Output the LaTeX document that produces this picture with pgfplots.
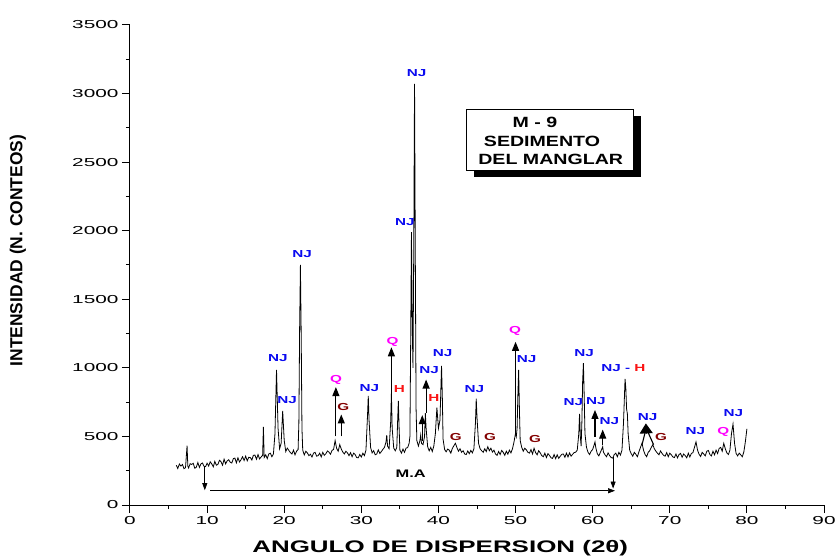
\documentclass[border=0pt]{standalone}
\usepackage{fontspec}
\setmainfont{Liberation Sans}
\newfontfamily\tickfont[FakeStretch=1.8]{Liberation Sans}
\newfontfamily\labfont[FakeStretch=1.55]{Liberation Sans}
\newfontfamily\boxfont[FakeStretch=1.32]{Liberation Sans}
\newfontfamily\annfont[FakeStretch=1.5]{Liberation Sans}
\usepackage{pgfplots}
\pgfplotsset{compat=1.18}
\usetikzlibrary{arrows.meta}
\definecolor{njblue}{RGB}{10,10,240}
\definecolor{qmag}{RGB}{255,0,255}
\definecolor{hred}{RGB}{250,20,20}
\definecolor{gred}{RGB}{130,0,0}
\tikzset{
  ann/.style={font=\annfont\bfseries\fontsize{10.2}{12}\selectfont, inner sep=0pt, anchor=center},
  boxt/.style={font=\boxfont\bfseries\fontsize{14.9}{16}\selectfont, inner sep=0pt, anchor=center},
  up/.style={line width=1.1bp, -{Triangle[length=9bp,width=7bp]}},
  ma/.style={line width=0.7bp, -{Triangle[length=7bp,width=5bp]}},
}
\begin{document}
\begin{tikzpicture}
\begin{axis}[
  scale only axis, width=694bp, height=480bp,
  xmin=0, xmax=90, ymin=0, ymax=3500,
  axis lines*=left,
  axis line style={line width=1bp},
  clip=false,
  xtick={0,10,...,90}, ytick={0,500,...,3500},
  minor x tick num=1, minor y tick num=1,
  tick align=outside,
  major tick length=8bp, minor tick length=4bp,
  tick style={line width=1bp, black},
  /pgf/number format/1000 sep={},
  /pgf/number format/assume math mode=true,
  tick label style={font=\tickfont\fontsize{11.6}{13}\selectfont},
  xlabel={ANGULO DE DISPERSION (2θ)},
  ylabel={INTENSIDAD (N. CONTEOS)},
  xlabel style={font=\labfont\bfseries\fontsize{16.8}{18}\selectfont, at={(axis description cs:0.447,-0.0896)}, anchor=center},
  ylabel style={font=\bfseries\fontsize{17.5}{19}\selectfont, at={(axis description cs:-0.1614,0.53)}, anchor=center, rotate=0},
]
\addplot[black, line width=0.8bp] table {
x y
6.0 290
6.2 266
6.4 299
6.6 284
6.8 296
7.0 265
7.2 272
7.4 432
7.5 284
7.6 270
7.8 301
8.0 296
8.2 304
8.4 268
8.6 275
8.8 310
9.0 274
9.2 300
9.4 306
9.6 282
9.8 280
10.0 305
10.2 284
10.4 315
10.6 300
10.8 278
11.0 318
11.2 290
11.4 296
11.6 326
11.8 316
12.0 290
12.2 334
12.4 300
12.6 322
12.8 330
13.0 312
13.2 306
13.4 338
13.6 342
13.8 308
14.0 344
14.2 314
14.4 330
14.6 352
14.8 324
15.0 356
15.2 322
15.4 348
15.6 346
15.8 328
16.0 362
16.2 364
16.4 334
16.6 368
16.8 336
17.0 350
17.2 362
17.3 570
17.4 346
17.6 366
17.8 338
18.0 372
18.2 378
18.4 352
18.6 372
18.8 520
19.0 985
19.2 560
19.4 410
19.6 450
19.8 686
20.0 470
20.2 390
20.4 415
20.6 398
20.8 382
21.0 372
21.2 400
21.4 366
21.6 392
21.8 405
21.9 600
22.0 1300
22.1 1750
22.2 1250
22.3 560
22.4 400
22.6 365
22.8 392
23.0 380
23.2 360
23.4 370
23.6 350
23.8 378
24.0 384
24.2 356
24.4 360
24.6 378
24.8 350
25.0 384
25.2 362
25.4 374
25.6 394
25.8 386
26.0 370
26.2 398
26.4 405
26.6 470
26.8 412
27.0 392
27.2 440
27.4 408
27.6 386
27.8 372
28.0 392
28.2 380
28.4 360
28.6 382
28.8 352
29.0 378
29.2 368
29.4 346
29.6 344
29.8 368
30.0 350
30.2 378
30.4 360
30.6 400
30.8 650
30.9 795
31.0 620
31.2 420
31.4 380
31.6 396
31.8 366
32.0 372
32.2 402
32.4 376
32.6 390
32.8 406
33.0 420
33.2 460
33.3 510
33.4 430
33.6 410
33.8 600
33.9 815
34.0 560
34.2 415
34.4 395
34.6 420
34.7 600
34.8 760
34.9 560
35.0 400
35.2 378
35.4 408
35.6 384
35.8 415
36.0 418
36.2 450
36.3 500
36.4 1200
36.5 1990
36.6 1300
36.7 1000
36.8 1900
36.9 3070
37.0 1800
37.1 700
37.2 470
37.4 430
37.6 470
37.7 510
37.8 450
38.0 440
38.2 500
38.3 670
38.4 560
38.6 425
38.8 395
39.0 420
39.2 390
39.4 430
39.6 520
39.8 710
40.0 560
40.2 620
40.4 1015
40.5 800
40.6 480
40.8 405
41.0 388
41.2 408
41.4 400
41.6 378
41.8 412
42.0 432
42.2 450
42.4 418
42.6 392
42.8 410
43.0 384
43.2 396
43.4 372
43.6 368
43.8 394
44.0 374
44.2 398
44.4 380
44.6 410
44.8 600
44.9 775
45.0 640
45.2 450
45.4 410
45.6 396
45.8 384
46.0 410
46.2 390
46.4 425
46.6 396
46.8 414
47.0 386
47.2 400
47.4 372
47.6 362
47.8 390
48.0 368
48.2 398
48.4 384
48.6 362
48.8 392
49.0 370
49.2 400
49.4 380
49.6 410
49.8 460
50.0 525
50.1 500
50.2 560
50.3 800
50.4 985
50.5 700
50.6 470
50.8 420
51.0 392
51.2 414
51.4 402
51.6 384
51.8 378
52.0 404
52.2 372
52.4 414
52.6 382
52.8 366
53.0 396
53.2 380
53.4 360
53.6 352
53.8 378
54.0 346
54.2 374
54.4 362
54.6 344
54.8 340
55.0 368
55.2 338
55.4 366
55.6 340
55.8 356
56.0 370
56.2 372
56.4 348
56.6 378
56.8 350
57.0 380
57.2 356
57.4 370
57.6 382
57.8 385
58.0 400
58.2 520
58.3 665
58.4 500
58.5 430
58.6 600
58.7 900
58.8 1035
58.9 800
59.0 520
59.2 420
59.4 384
59.6 368
59.8 392
60.0 405
60.2 440
60.3 460
60.4 420
60.6 374
60.8 358
61.0 384
61.2 410
61.3 425
61.4 385
61.6 366
61.8 352
62.0 380
62.2 360
62.4 346
62.6 342
62.8 368
63.0 378
63.2 352
63.4 384
63.6 364
63.8 400
64.0 600
64.2 920
64.3 850
64.4 700
64.5 665
64.6 520
64.8 400
65.0 374
65.2 356
65.4 384
65.6 370
65.8 352
66.0 388
66.2 420
66.4 450
66.6 398
66.8 368
67.0 352
67.2 384
67.4 396
67.6 420
67.8 440
68.0 410
68.2 392
68.4 378
68.6 366
68.8 394
69.0 376
69.2 362
69.4 356
69.6 382
69.8 352
70.0 378
70.2 366
70.4 350
70.6 346
70.8 372
71.0 344
71.2 368
71.4 376
71.6 348
71.8 372
72.0 360
72.2 344
72.4 378
72.6 350
72.8 376
73.0 382
73.2 420
73.4 460
73.6 400
73.8 370
74.0 354
74.2 384
74.4 372
74.6 358
74.8 392
75.0 398
75.2 368
75.4 358
75.6 392
75.8 366
76.0 400
76.2 375
76.4 412
76.6 420
76.8 392
77.0 450
77.2 410
77.4 380
77.6 368
77.8 400
78.0 520
78.2 590
78.4 450
78.6 376
78.8 358
79.0 378
79.2 366
79.4 352
79.6 386
79.8 460
80.0 555
};
% arrows
\draw[up] (axis cs:26.7,500) -- (axis cs:26.7,860);
\draw[up] (axis cs:27.4,500) -- (axis cs:27.4,660);
\draw[up] (axis cs:33.9,820) -- (axis cs:33.9,1150);
\draw[up] (axis cs:37.9,470) -- (axis cs:37.9,655);
\draw[up] (axis cs:38.4,670) -- (axis cs:38.4,915);
\draw[up] (axis cs:50.0,525) -- (axis cs:50.0,1190);
\draw[up] (axis cs:60.3,498) -- (axis cs:60.3,693);
\draw[up] (axis cs:61.3,440) -- (axis cs:61.3,550);
\draw[line width=1.1bp] (axis cs:66.4,440) -- (axis cs:66.85,540);
\draw[line width=1.1bp] (axis cs:67.9,440) -- (axis cs:67.1,540);
\draw[line width=1.1bp, -{Triangle[length=10bp,width=13bp]}] (axis cs:66.95,520) -- (axis cs:66.9,595);
% M.A
\draw[ma] (axis cs:9.7,280) -- (axis cs:9.7,108);
\draw[ma] (axis cs:10.4,104) -- (axis cs:62.9,104);
\draw[ma] (axis cs:62.65,352) -- (axis cs:62.65,120);
\node[ann, font=\annfont\bfseries\fontsize{11}{12}\selectfont] at (axis cs:36.4,231) {M.A};
% labels
\node[ann,text=njblue] at (axis cs:19.19,1072) {NJ};
\node[ann,text=njblue] at (axis cs:20.36,766) {NJ};
\node[ann,text=njblue] at (axis cs:22.31,1830) {NJ};
\node[ann,text=qmag] at (axis cs:26.72,911) {Q};
\node[ann,text=gred] at (axis cs:27.67,712) {G};
\node[ann,text=njblue] at (axis cs:31.04,856) {NJ};
\node[ann,text=qmag] at (axis cs:34.06,1191) {Q};
\node[ann,text=hred] at (axis cs:34.93,844) {H};
\node[ann,text=njblue] at (axis cs:35.66,2061) {NJ};
\node[ann,text=njblue] at (axis cs:37.18,3148) {NJ};
\node[ann,text=njblue] at (axis cs:38.78,984) {NJ};
\node[ann,text=hred] at (axis cs:39.42,778) {H};
\node[ann,text=njblue] at (axis cs:40.55,1106) {NJ};
\node[ann,text=gred] at (axis cs:42.24,494) {G};
\node[ann,text=njblue] at (axis cs:44.65,844) {NJ};
\node[ann,text=gred] at (axis cs:46.69,496) {G};
\node[ann,text=qmag] at (axis cs:49.93,1269) {Q};
\node[ann,text=njblue] at (axis cs:51.44,1062) {NJ};
\node[ann,text=gred] at (axis cs:52.52,479) {G};
\node[ann,text=njblue] at (axis cs:57.49,749) {NJ};
\node[ann,text=njblue] at (axis cs:58.88,1111) {NJ};
\node[ann,text=njblue] at (axis cs:60.43,758) {NJ};
\node[ann,text=njblue] at (axis cs:62.16,613) {NJ};
\node[ann] at (axis cs:63.98,997) {\textcolor{njblue}{NJ - }\textcolor{hred}{H}};
\node[ann,text=njblue] at (axis cs:67.13,639) {NJ};
\node[ann,text=gred] at (axis cs:68.86,496) {G};
\node[ann,text=njblue] at (axis cs:73.31,542) {NJ};
\node[ann,text=qmag] at (axis cs:76.94,532) {Q};
\node[ann,text=njblue] at (axis cs:78.24,669) {NJ};
% box
\fill[black] (axis cs:44.6,2391.8) rectangle (axis cs:66.27,2836.6);
\draw[fill=white, line width=0.8bp] (axis cs:43.57,2442.8) rectangle (axis cs:65.23,2887.6);
\node[boxt] at (axis cs:52.52,2793) {M - 9};
\node[boxt] at (axis cs:53.43,2654) {SEDIMENTO};
\node[boxt] at (axis cs:54.56,2523) {DEL MANGLAR};
\end{axis}
\pgfresetboundingbox
\path[use as bounding box] (-130bp,-55bp) rectangle (706bp,505bp);
\end{tikzpicture}
\end{document}
